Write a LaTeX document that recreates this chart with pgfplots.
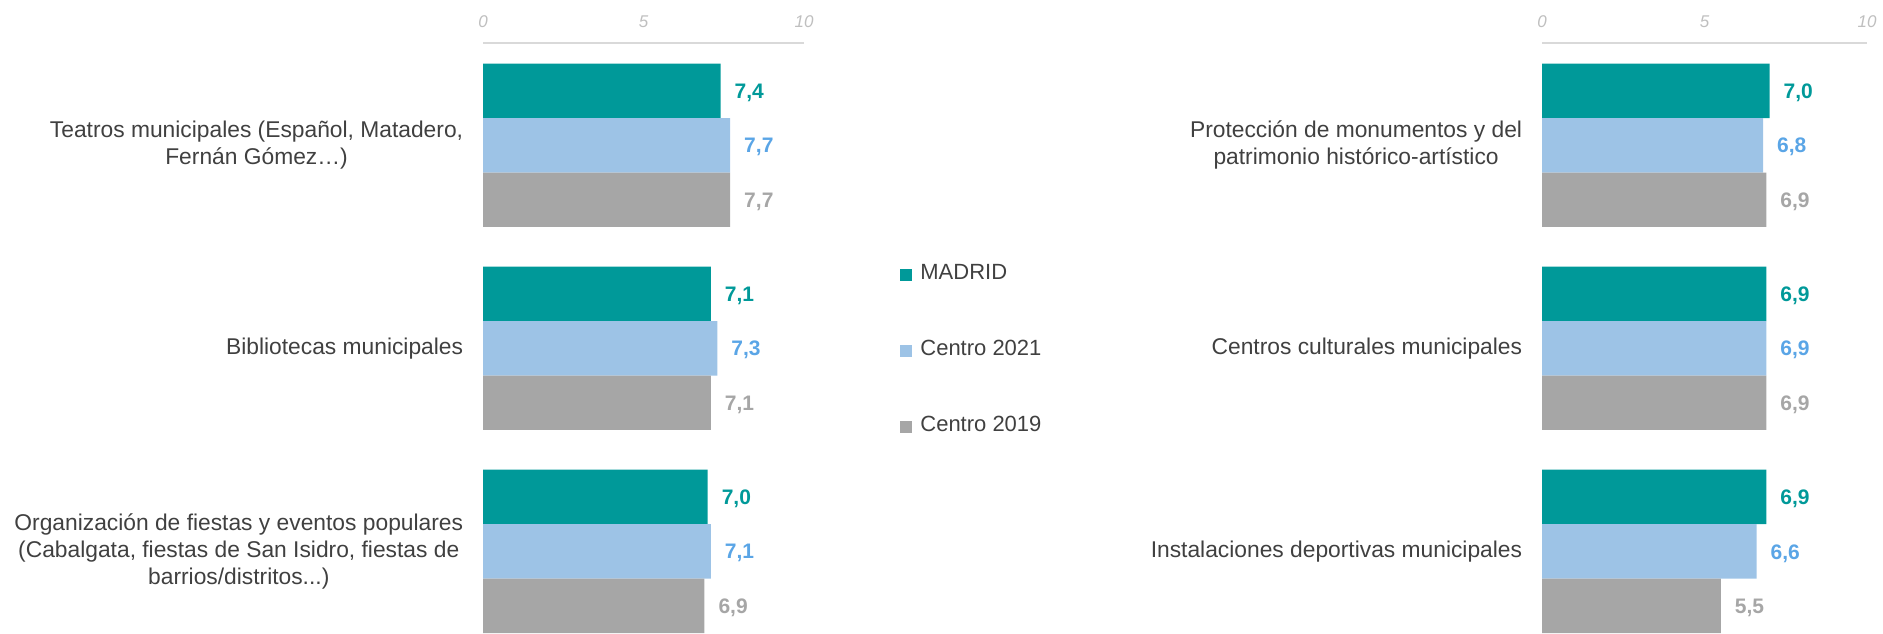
\documentclass[border=0pt]{standalone}
\usepackage{pgfplots}
\pgfplotsset{compat=1.18}
\usepackage{fontspec}
\setmainfont{Liberation Sans}

\definecolor{cmad}{HTML}{009999}
\definecolor{c21}{HTML}{9DC3E6}
\definecolor{c19}{HTML}{A6A6A6}
\definecolor{l21}{HTML}{5AA5E6}
\definecolor{txt}{HTML}{404040}
\definecolor{tickc}{HTML}{BFBFBF}
\definecolor{axln}{HTML}{D9D9D9}

\newcommand\tdots{...}

\pgfkeys{/pgf/number format/.cd, use comma, fixed, fixed zerofill, precision=1, assume math mode=true}

\pgfplotsset{
  panel/.style={
    xbar, scale only axis, height=295pt,
    xmin=0, xmax=10, ymin=-2.4025, ymax=0.5037,
    bar width=0.2683,
    axis x line*=top, axis y line*=left,
    y axis line style={draw=none},
    x axis line style={draw=axln, line width=1pt},
    xtick={0,5,10}, xticklabels={0,5,10},
    ytick={0,-1,-2},
    major tick length=0pt,
    xticklabel style={font=\fontsize{8.5}{9}\selectfont\itshape, text=tickc, anchor=center, yshift=10.8pt},
    yticklabel style={font=\fontsize{11.4}{13.4}\selectfont, text=txt, align=center, inner sep=0pt, xshift=-9.75pt},
    nodes near coords,
    nodes near coords style={font=\fontsize{10.5}{12}\selectfont\bfseries, anchor=west, xshift=3.5pt, yshift=-1pt},
  },
  pmad/.style={fill=cmad, draw=none, bar shift=0.2683, nodes near coords style={text=cmad}},
  p21/.style={fill=c21, draw=none, bar shift=0, nodes near coords style={text=l21}},
  p19/.style={fill=c19, draw=none, bar shift=-0.2683, nodes near coords style={text=c19}},
}

\begin{document}
\begin{tikzpicture}
\useasboundingbox (0pt,0pt) rectangle (941.5pt,-316.5pt);

% left panel
\begin{axis}[panel, at={(241.5pt,-21.5pt)}, anchor=north west, width=160.5pt,
  yticklabels={{Teatros municipales (Español, Matadero,\\Fernán Gómez…)},
               {Bibliotecas municipales},
               {Organización de fiestas y eventos populares\\(Cabalgata, fiestas de San Isidro, fiestas de\\barrios/distritos\tdots)}},
  legend style={at={(axis description cs:1.299,0.4785)}, anchor=west,
    draw=none, fill=none, inner sep=0pt, text=txt,
    font=\fontsize{11}{12}\selectfont, row sep=28pt,
    nodes={inner sep=0pt, text height=7.5pt, text depth=2.5pt},
    /tikz/every odd column/.append style={column sep=4pt}},
  legend cell align=left,
  legend image code/.code={\fill[#1] (0pt,-3pt) rectangle (6pt,3pt);},
]
\addplot[pmad] coordinates {(7.4,0) (7.1,-1) (7.0,-2)};
\addplot[p21] coordinates {(7.7,0) (7.3,-1) (7.1,-2)};
\addplot[p19] coordinates {(7.7,0) (7.1,-1) (6.9,-2)};
\legend{MADRID, Centro 2021, Centro 2019}
\end{axis}

% right panel
\begin{axis}[panel, at={(771pt,-21.5pt)}, anchor=north west, width=162.5pt,
  yticklabels={{Protección de monumentos y del\\patrimonio histórico-artístico},
               {Centros culturales municipales},
               {Instalaciones deportivas municipales}},
]
\addplot[pmad] coordinates {(7.0,0) (6.9,-1) (6.9,-2)};
\addplot[p21] coordinates {(6.8,0) (6.9,-1) (6.6,-2)};
\addplot[p19] coordinates {(6.9,0) (6.9,-1) (5.5,-2)};
\end{axis}
\end{tikzpicture}
\end{document}
